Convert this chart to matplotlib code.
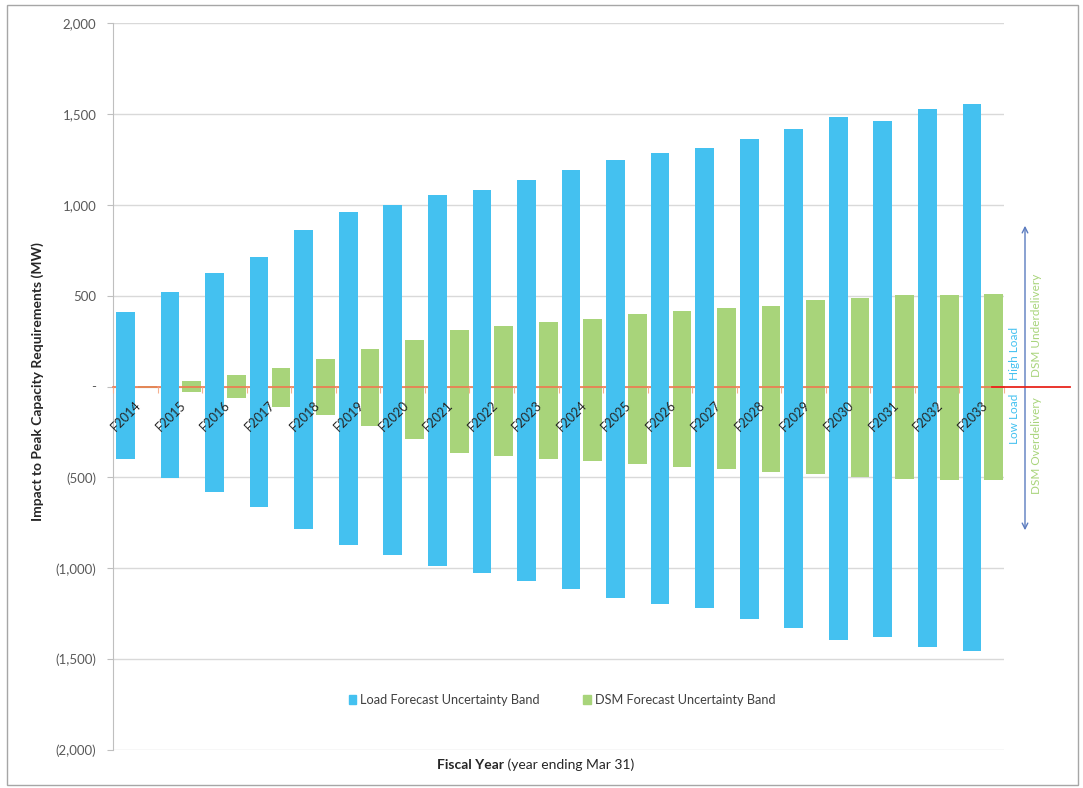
import matplotlib
matplotlib.use("Agg")
import matplotlib.pyplot as plt
import matplotlib.transforms as mtransforms
from matplotlib.patches import Patch, Rectangle
from matplotlib.lines import Line2D
from matplotlib.ticker import FuncFormatter
import numpy as np

# Fiscal years and uncertainty band limits (MW)
years = ["F2014", "F2015", "F2016", "F2017", "F2018", "F2019", "F2020", "F2021",
         "F2022", "F2023", "F2024", "F2025", "F2026", "F2027", "F2028", "F2029",
         "F2030", "F2031", "F2032", "F2033"]
load_high = [408, 520, 622, 713, 862, 958, 998, 1055, 1082, 1134,
             1192, 1245, 1282, 1310, 1360, 1418, 1485, 1460, 1527, 1555]
load_low = [-397, -505, -580, -661, -785, -870, -927, -987, -1024, -1069,
            -1115, -1161, -1195, -1221, -1279, -1331, -1396, -1380, -1435, -1457]
dsm_high = [5, 31, 62, 104, 150, 207, 256, 310, 335, 357,
            373, 400, 413, 431, 445, 474, 486, 501, 502, 507]
dsm_low = [-10, -33, -66, -112, -157, -220, -289, -364, -383, -397,
           -412, -425, -445, -454, -472, -483, -498, -507, -513, -516]

BLUE = "#44C1F0"
GREEN = "#A8D47A"

plt.rcParams["font.family"] = ["Lato", "DejaVu Sans"]

W, H = 1083, 788
fig = plt.figure(figsize=(W / 100, H / 100), dpi=100)
ax = fig.add_axes([113 / W, 1 - 750 / H, (1004 - 113) / W, (750 - 23) / H])

x = np.arange(len(years))
ax.bar(x - 0.22, np.subtract(load_high, load_low), bottom=load_low, width=0.42,
       color=BLUE, zorder=3)
ax.bar(x + 0.27, np.subtract(dsm_high, dsm_low), bottom=dsm_low, width=0.42,
       color=GREEN, zorder=2)

ax.set_xlim(-0.5, len(years) - 0.5)
ax.set_ylim(-2000, 2000)


def acct(v, pos):
    if v == 0:
        return "-"
    if v < 0:
        return f"({-v:,.0f})"
    return f"{v:,.0f}"


ax.set_yticks(np.arange(-2000, 2001, 500))
ax.yaxis.set_major_formatter(FuncFormatter(acct))
ax.tick_params(axis="y", length=4, color="#bfbfbf", pad=8, labelsize=9.5,
               labelcolor="#595959")
ax.grid(axis="y", color="#d9d9d9", lw=1)
ax.yaxis.set_zorder(0.5)

for s in ("top", "right"):
    ax.spines[s].set_visible(False)
ax.spines["left"].set_color("#bfbfbf")
ax.spines["bottom"].set_position(("data", 0))
ax.spines["bottom"].set_color("#f07850")
ax.spines["bottom"].set_linewidth(1.2)
ax.spines["bottom"].set_zorder(2.5)

# category boundaries get tick marks, centres get the rotated year labels
ax.set_xticks(np.arange(-0.5, len(years), 1.0))
ax.set_xticklabels([])
ax.set_xticks(x, minor=True)
ax.set_xticklabels(years, minor=True, rotation=45, ha="right", va="top",
                   rotation_mode="anchor", fontsize=9.2, color="#262626")
ax.tick_params(axis="x", which="major", length=4, color="#f5b090")
ax.tick_params(axis="x", which="minor", length=0, pad=9)
ax.xaxis.set_zorder(5)

# axis titles
fig.text(38 / W, 1 - 382 / H, "Impact to Peak Capacity Requirements (MW)",
         rotation=90, ha="center", va="center", fontsize=10, fontweight="bold",
         color="#262626")
renderer = fig.canvas.get_renderer()
t1 = fig.text(437 / W, 1 - 765 / H, "Fiscal Year", ha="left", va="center",
              fontsize=10, fontweight="bold", color="#262626")
bb = t1.get_window_extent(renderer)
fig.text(bb.x1 / W, 1 - 765 / H, " (year ending Mar 31)", ha="left", va="center",
         fontsize=10, color="#262626")

# legend
ax.legend(handles=[Patch(color=BLUE), Patch(color=GREEN)],
          labels=["Load Forecast Uncertainty Band", "DSM Forecast Uncertainty Band"],
          loc="center", bbox_to_anchor=(562 / W, 1 - 700 / H),
          bbox_transform=fig.transFigure, ncol=2, frameon=False,
          handlelength=0.6, handleheight=0.6, handletextpad=0.3,
          columnspacing=3.4, fontsize=9.2, labelcolor="#404040")

# right-hand direction notes
ax.annotate("", xy=(1025 / W, 1 - 223 / H), xytext=(1025 / W, 1 - 533 / H),
            xycoords="figure fraction", textcoords="figure fraction",
            arrowprops=dict(arrowstyle="<->", color="#5b7bbf", lw=1))
fig.text(1015 / W, 1 - 380 / H, "High Load", rotation=90, ha="center",
         va="bottom", fontsize=8.5, color=BLUE)
fig.text(1015 / W, 1 - 394 / H, "Low Load", rotation=90, ha="center",
         va="top", fontsize=8.5, color=BLUE)
fig.text(1037 / W, 1 - 377 / H, "DSM Underdelivery", rotation=90, ha="center",
         va="bottom", fontsize=8.5, color=GREEN)
fig.text(1037 / W, 1 - 397 / H, "DSM Overdelivery", rotation=90, ha="center",
         va="top", fontsize=8.5, color=GREEN)

# zero line carried past the plot edge
blend = mtransforms.blended_transform_factory(fig.transFigure, ax.transData)
fig.add_artist(Line2D([992 / W, 1070 / W], [0, 0], transform=blend,
                      color="#e8251c", lw=1.3))

# chart border
fig.add_artist(Rectangle((7 / W, 1 - 785 / H), (1078 - 7) / W, (785 - 5) / H,
                         fill=False, ec="#a6a6a6", lw=1,
                         transform=fig.transFigure))

fig.savefig("out.png", dpi=100)
